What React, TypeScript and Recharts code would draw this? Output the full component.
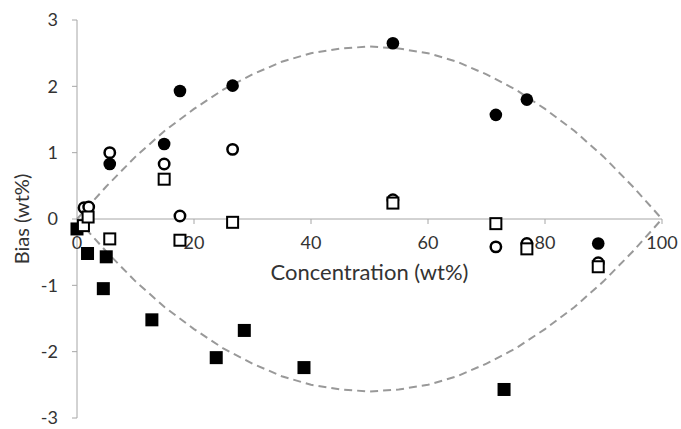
import React from "react";
import {
  ScatterChart,
  Scatter,
  XAxis,
  YAxis,
  ReferenceLine,
  ReferenceDot,
} from "recharts";

// concentration (wt%) / bias (wt%)
const filledCircleConc = [5.6, 14.9, 17.6, 26.6, 54.0, 71.6, 76.9, 89.1];
const filledCircleBias = [0.83, 1.13, 1.93, 2.01, 2.65, 1.57, 1.8, -0.37];

const openCircleConc = [1.2, 2.0, 5.6, 14.9, 17.6, 26.6, 54.0, 71.6, 76.9, 89.1];
const openCircleBias = [0.17, 0.18, 1.0, 0.83, 0.045, 1.05, 0.29, -0.42, -0.37, -0.66];

const filledSquareConc = [0.0, 1.8, 4.5, 5.0, 12.8, 23.8, 28.6, 38.8, 73.0];
const filledSquareBias = [-0.15, -0.52, -1.05, -0.57, -1.52, -2.09, -1.68, -2.24, -2.57];

const openSquareConc = [1.1, 1.9, 5.6, 14.9, 17.6, 26.6, 54.0, 71.6, 76.9, 89.1];
const openSquareBias = [-0.1, 0.03, -0.3, 0.6, -0.32, -0.05, 0.24, -0.07, -0.45, -0.72];

// dashed envelope curves
const envelopeConc = [0, 5, 10, 15, 20, 25, 30, 35, 40, 45, 50, 55, 60, 65, 70, 75, 80, 85, 90, 95, 100];
const upperEnvelope = [0, 0.49, 0.94, 1.33, 1.66, 1.95, 2.18, 2.37, 2.5, 2.57, 2.6, 2.57, 2.5, 2.37, 2.18, 1.95, 1.66, 1.33, 0.94, 0.49, 0];
const lowerEnvelope = [0, -0.49, -0.94, -1.33, -1.66, -1.95, -2.18, -2.37, -2.5, -2.57, -2.6, -2.57, -2.5, -2.37, -2.18, -1.95, -1.66, -1.33, -0.94, -0.49, 0];

const xTicks = [0, 20, 40, 60, 80, 100];
const yTicks = [-3, -2, -1, 0, 1, 2, 3];

const zip = (xs: number[], ys: number[]) => xs.map((x, i) => ({ x, y: ys[i] }));

const FONT = "Lato, 'Open Sans', sans-serif";
const AXIS = "#a6a6a6";
const TEXT = "#333";

const FilledCircle = (p: any) => <circle cx={p.cx} cy={p.cy} r={6.3} fill="#000" />;
const OpenCircle = (p: any) => (
  <circle cx={p.cx} cy={p.cy} r={5.2} fill="#fff" stroke="#000" strokeWidth={2.5} />
);
const FilledSquare = (p: any) => (
  <rect x={p.cx - 6.5} y={p.cy - 6.5} width={13} height={13} fill="#000" />
);
const OpenSquare = (p: any) => (
  <rect x={p.cx - 5.5} y={p.cy - 5.5} width={11} height={11} fill="#fff" stroke="#000" strokeWidth={2} />
);
const NoDot = () => <g />;

const envelopeLine = { stroke: "#999", strokeWidth: 2, strokeDasharray: "8 5" };

export default function App() {
  return (
    <div style={{ position: "absolute", left: 0, top: 0, background: "#fff", fontFamily: FONT }}>
      <ScatterChart width={681} height={429} margin={{ top: 20, right: 19, bottom: 11, left: 0 }}>
        <XAxis type="number" dataKey="x" domain={[0, 100]} ticks={xTicks} hide />
        <YAxis
          type="number"
          dataKey="y"
          domain={[-3, 3]}
          ticks={yTicks}
          interval={0}
          width={77}
          stroke={AXIS}
          tickSize={5}
          tickMargin={14}
          tick={{ fill: TEXT, fontSize: 18, fontFamily: FONT }}
          label={{
            value: "Bias (wt%)",
            angle: -90,
            position: "insideLeft",
            offset: 22,
            fontSize: 20,
            fontFamily: FONT,
            fill: TEXT,
            style: { textAnchor: "middle" },
          }}
        />
        <ReferenceLine
          y={0}
          stroke={AXIS}
          label={{
            value: "Concentration (wt%)",
            position: "bottom",
            offset: 45,
            fontSize: 22,
            fontFamily: FONT,
            fill: TEXT,
          }}
        />
        {xTicks.map((t) => (
          <ReferenceDot
            key={t}
            x={t}
            y={0}
            r={0}
            ifOverflow="visible"
            shape={(p: any) => (
              <g>
                {t !== 0 && <line x1={p.cx} y1={p.cy} x2={p.cx} y2={p.cy + 5} stroke={AXIS} />}
                <text
                  x={p.cx}
                  y={p.cy + 30}
                  textAnchor="middle"
                  fill={TEXT}
                  fontSize={18}
                  fontFamily={FONT}
                >
                  {t}
                </text>
              </g>
            )}
          />
        ))}
        <Scatter
          data={zip(envelopeConc, upperEnvelope)}
          line={envelopeLine}
          lineType="joint"
          shape={NoDot}
          isAnimationActive={false}
        />
        <Scatter
          data={zip(envelopeConc, lowerEnvelope)}
          line={envelopeLine}
          lineType="joint"
          shape={NoDot}
          isAnimationActive={false}
        />
        <Scatter data={zip(filledCircleConc, filledCircleBias)} shape={FilledCircle} isAnimationActive={false} />
        <Scatter data={zip(openCircleConc, openCircleBias)} shape={OpenCircle} isAnimationActive={false} />
        <Scatter data={zip(filledSquareConc, filledSquareBias)} shape={FilledSquare} isAnimationActive={false} />
        <Scatter data={zip(openSquareConc, openSquareBias)} shape={OpenSquare} isAnimationActive={false} />
      </ScatterChart>
    </div>
  );
}
